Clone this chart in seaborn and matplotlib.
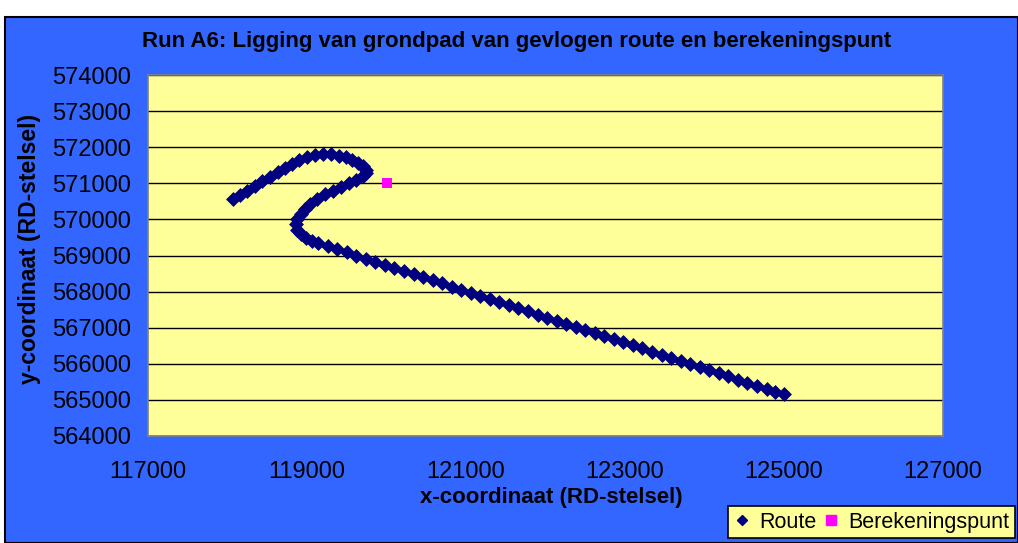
import matplotlib
matplotlib.use("Agg")
import matplotlib.pyplot as plt
import seaborn as sns
import pandas as pd
from matplotlib.patches import Rectangle
from matplotlib.lines import Line2D

# ---- data ----
route_x = [118070, 118160, 118250, 118345, 118440, 118535, 118630, 118720, 118810, 118900,
           119000, 119100, 119200, 119300, 119400, 119490, 119570, 119640, 119700, 119740,
           119745, 119710, 119620, 119530, 119430, 119330, 119230, 119130, 119040, 118970,
           118920, 118880, 118865, 118880, 118920, 118985, 119060, 119140,
           119260, 119380, 119500, 119620, 119740, 119860, 119980, 120100, 120220, 120340,
           120460, 120580, 120700, 120820, 120940, 121060, 121180, 121300, 121420, 121540,
           121660, 121780, 121900, 122020, 122140, 122260, 122380, 122500, 122620, 122740,
           122860, 122980, 123100, 123220, 123340, 123460, 123580, 123700, 123820, 123940,
           124060, 124180, 124300, 124420, 124540, 124660, 124780, 124890, 125000]
route_y = [570560, 570680, 570800, 570925, 571050, 571175, 571300, 571420, 571540, 571650,
           571740, 571790, 571810, 571800, 571770, 571720, 571650, 571570, 571480, 571380,
           571280, 571190, 571100, 571000, 570900, 570800, 570690, 570570, 570440, 570300,
           570160, 570010, 569860, 569720, 569590, 569480, 569400, 569340,
           569260, 569170, 569085, 569000, 568910, 568825, 568740, 568655, 568570, 568480,
           568395, 568310, 568225, 568140, 568055, 567965, 567880, 567795, 567710, 567625,
           567540, 567450, 567365, 567280, 567195, 567110, 567025, 566940, 566850, 566765,
           566680, 566595, 566510, 566425, 566335, 566250, 566165, 566080, 565995, 565910,
           565820, 565735, 565650, 565565, 565480, 565395, 565305, 565230, 565150]
punt_x = [120000]
punt_y = [571000]

x_ticks = [117000, 119000, 121000, 123000, 125000, 127000]
y_ticks = [564000, 565000, 566000, 567000, 568000, 569000, 570000, 571000, 572000, 573000, 574000]

title = "Run A6: Ligging van grondpad van gevlogen route en berekeningspunt"
xlabel = "x-coordinaat (RD-stelsel)"
ylabel = "y-coordinaat (RD-stelsel)"

# ---- styling ----
sns.set_style("white")
plt.rcParams['font.family'] = ['Liberation Sans', 'DejaVu Sans']
plt.rcParams['text.color'] = 'black'
plt.rcParams['xtick.color'] = 'black'
plt.rcParams['ytick.color'] = 'black'

BLUE = "#3366FF"
YELLOW = "#FFFF99"
NAVY = "#000080"
MAGENTA = "#FF00FF"

fig = plt.figure(figsize=(10.18, 5.43), dpi=100)
fig.patch.set_facecolor("white")
bg = Rectangle((5 / 1018, 0), 1 - 5 / 1018, 1 - 17 / 543, transform=fig.transFigure,
               facecolor=BLUE, edgecolor="black", linewidth=1.5, zorder=-10)
fig.patches.append(bg)

ax = fig.add_axes([148 / 1018, 1 - 436 / 543, (943 - 148) / 1018, (436 - 75) / 543])
ax.set_facecolor(YELLOW)
ax.set_zorder(1)

route_df = pd.DataFrame({"x": route_x, "y": route_y})
punt_df = pd.DataFrame({"x": punt_x, "y": punt_y})

sns.scatterplot(data=route_df, x="x", y="y", ax=ax, marker="D", s=58, color=NAVY,
                linewidth=0, zorder=3, legend=False)
sns.scatterplot(data=punt_df, x="x", y="y", ax=ax, marker="s", s=50, color=MAGENTA,
                linewidth=0, zorder=3, legend=False)

ax.set_xlim(117000, 127000)
ax.set_ylim(564000, 574000)
ax.set_xticks(x_ticks)
ax.set_yticks(y_ticks)
ax.set_xticklabels([str(v) for v in x_ticks], fontsize=17)
ax.set_yticklabels([str(v) for v in y_ticks], fontsize=17)
ax.tick_params(axis="both", direction="out", length=7, width=1, color="#808080", pad=5,
               labelcolor="black")
ax.tick_params(axis="x", pad=11)
ax.yaxis.grid(True, color="black", linewidth=1)
ax.xaxis.grid(False)
ax.set_axisbelow(True)
for s in ax.spines.values():
    s.set_color("#808080")
    s.set_linewidth(1.2)
ax.set_xlabel("")
ax.set_ylabel("")

fig.text(517 / 1018, 1 - 42 / 543, title, ha="center", va="center", fontsize=16,
         fontweight="bold", color="black")
fig.text(551 / 1018, 1 - 497 / 543, xlabel, ha="center", va="center", fontsize=16,
         fontweight="bold", color="black")
fig.text(30 / 1018, 1 - 249 / 543, ylabel, ha="center", va="center", fontsize=16.5,
         fontweight="bold", rotation=90, color="black")

handles = [Line2D([], [], marker="D", color=NAVY, linestyle="none", markersize=5.5),
           Line2D([], [], marker="s", color=MAGENTA, linestyle="none", markersize=6.5)]
leg = fig.legend(handles, ["Route", "Berekeningspunt"], loc="lower right",
                 bbox_to_anchor=(1015 / 1018, 1 - 538 / 543), ncol=2, fontsize=15.5,
                 frameon=True, fancybox=False, handlelength=0.8, handletextpad=0.4,
                 columnspacing=0.3, borderpad=0.25, borderaxespad=0)
for t in leg.get_texts():
    t.set_color("black")
leg.get_frame().set_facecolor(YELLOW)
leg.get_frame().set_edgecolor("black")
leg.get_frame().set_linewidth(1.2)
leg.get_frame().set_alpha(1)

fig.savefig("out.png", dpi=100, facecolor=fig.get_facecolor())
